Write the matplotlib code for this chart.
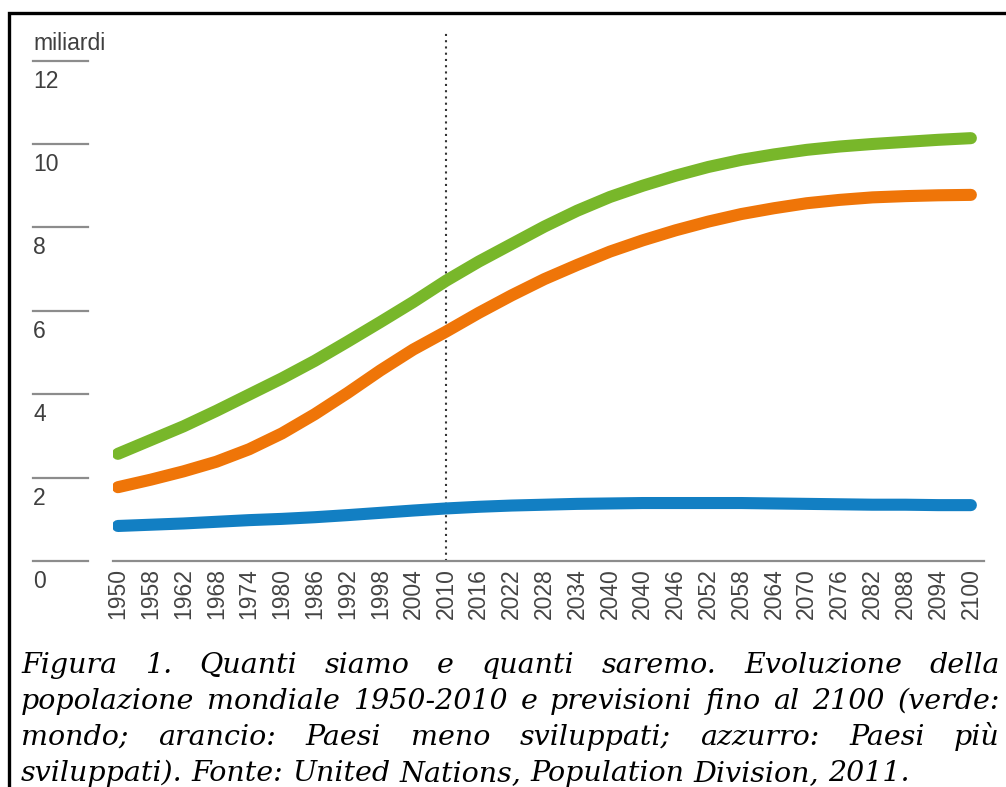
import matplotlib
matplotlib.use('Agg')
import matplotlib.pyplot as plt
from matplotlib import font_manager
from matplotlib.transforms import blended_transform_factory, offset_copy
from matplotlib.patches import Rectangle

# ---------------- data ----------------
years = ['1950', '1958', '1962', '1968', '1974', '1980', '1986', '1992', '1998',
         '2004', '2010', '2016', '2022', '2028', '2034', '2040', '2040', '2046',
         '2052', '2058', '2064', '2070', '2076', '2082', '2088', '2094', '2100']

world = [2.57, 2.90, 3.23, 3.60, 3.99, 4.38, 4.80, 5.26, 5.73, 6.21, 6.72,
         7.18, 7.60, 8.02, 8.40, 8.73, 9.00, 9.24, 9.45, 9.62, 9.75, 9.86,
         9.94, 10.00, 10.05, 10.10, 10.14]

less_dev = [1.77, 1.95, 2.15, 2.38, 2.68, 3.06, 3.52, 4.03, 4.57, 5.07, 5.50,
            5.95, 6.37, 6.76, 7.10, 7.42, 7.69, 7.93, 8.14, 8.32, 8.46, 8.58,
            8.66, 8.72, 8.75, 8.77, 8.78]

more_dev = [0.84, 0.87, 0.90, 0.94, 0.98, 1.01, 1.05, 1.10, 1.155, 1.21, 1.26,
            1.30, 1.33, 1.35, 1.37, 1.38, 1.39, 1.39, 1.39, 1.39, 1.38, 1.37,
            1.36, 1.35, 1.35, 1.34, 1.34]

y_ticks = [0, 2, 4, 6, 8, 10, 12]
y_unit_label = 'miliardi'
marker_year = '2010'

caption_lines = [
    'Figura 1. Quanti siamo e quanti saremo. Evoluzione della',
    'popolazione mondiale 1950-2010 e previsioni fino al 2100 (verde:',
    'mondo; arancio: Paesi meno sviluppati; azzurro: Paesi più',
    'sviluppati). Fonte: United Nations, Population Division, 2011.',
]

# ---------------- fonts ----------------
available = {f.name for f in font_manager.fontManager.ttflist}
def pick(*names):
    for n in names:
        if n in available:
            return n
    return 'DejaVu Sans'

sans = pick('Liberation Sans', 'Roboto', 'DejaVu Sans')
serif = pick('DejaVu Serif', 'Liberation Serif')

# ---------------- figure ----------------
W, H = 1006, 787
fig = plt.figure(figsize=(W / 100, H / 100), dpi=100)
fig.patch.set_facecolor('white')

px_per_unit = 41.7
ax_left, ax_right, ax_bottom, ax_top = 113, 984, 561, 30
ax = fig.add_axes([ax_left / W, 1 - ax_bottom / H,
                   (ax_right - ax_left) / W, (ax_bottom - ax_top) / H])

xs = list(range(len(years)))
GREEN, ORANGE, BLUE = '#78b72a', '#ef7508', '#127fc3'
lw = 8.7
ax.axvline(years.index(marker_year), color='#333333', lw=1.5,
           ls=(0, (1, 2)), zorder=1)
for series, col in [(more_dev, BLUE), (less_dev, ORANGE), (world, GREEN)]:
    ax.plot(xs, series, color=col, lw=lw, solid_capstyle='round',
            solid_joinstyle='round', zorder=3)

ax.set_xlim(-0.15, len(years) - 1 + 0.4)
ax.set_ylim(0, (ax_bottom - ax_top) / px_per_unit)
for s in ['top', 'right', 'left']:
    ax.spines[s].set_visible(False)
ax.spines['bottom'].set_color('#8c8c8c')
ax.spines['bottom'].set_linewidth(1.6)
ax.set_xticks(xs)
ax.set_xticklabels(years, rotation=90, fontsize=16.5, color='#444444',
                   family=sans)
ax.tick_params(axis='x', length=0, pad=5)
ax.set_yticks([])

# custom y ticks: short line above each label, at far left
trans = blended_transform_factory(fig.transFigure, ax.transData)
label_trans = offset_copy(trans, fig=fig, x=0, y=-9, units='dots')
for v in y_ticks:
    ax.plot([33 / W, 88 / W], [v, v], transform=trans, color='#8c8c8c',
            lw=1.6, clip_on=False)
    ax.text(33 / W, v, str(v), transform=label_trans, va='top', ha='left',
            fontsize=16.5, color='#3f3f3f', family=sans, clip_on=False)

fig.text(33 / W, 1 - 50 / H, y_unit_label, va='baseline', ha='left',
         fontsize=16.5, color='#3f3f3f', family=sans)

# border (left + top visible)
fig.add_artist(Rectangle((9 / W, 1 - (H + 20) / H), (W + 20) / W, (H + 20 - 13) / H,
                         transform=fig.transFigure, fill=False,
                         edgecolor='black', lw=2.4))

# caption, justified
fig.canvas.draw()
renderer = fig.canvas.get_renderer()
left_px, right_px = 21, 1000
baselines = [673, 709, 745, 781]
fs = 20.5
for li, line in enumerate(caption_lines):
    words = line.split(' ')
    y = 1 - baselines[li] / H
    texts = [fig.text(0, y, w, fontsize=fs, family=serif, style='italic',
                      va='baseline', ha='left', color='black') for w in words]
    widths = [t.get_window_extent(renderer).width for t in texts]
    if li < len(caption_lines) - 1 and len(words) > 1:
        gap = (right_px - left_px - sum(widths)) / (len(words) - 1)
    else:
        sp = fig.text(0, y, 'a a', fontsize=fs, family=serif, style='italic')
        sp2 = fig.text(0, y, 'aa', fontsize=fs, family=serif, style='italic')
        gap = sp.get_window_extent(renderer).width - sp2.get_window_extent(renderer).width
        sp.remove(); sp2.remove()
    xpos = left_px
    for t, wdt in zip(texts, widths):
        t.set_x(xpos / W)
        xpos += wdt + gap

fig.savefig('out.png', dpi=100, facecolor='white')
